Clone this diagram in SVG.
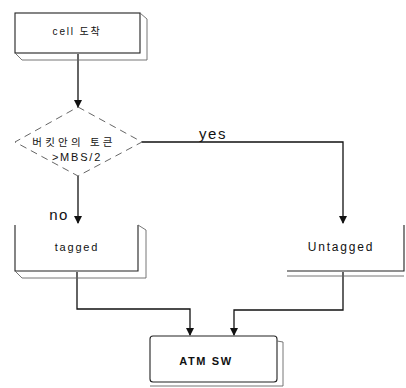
<svg xmlns="http://www.w3.org/2000/svg" width="406" height="388" viewBox="0 0 406 388">
  <style>
    .edge { fill: none; stroke: #111; stroke-width: 1.3; }
    .box { fill: none; stroke: #222; stroke-width: 1.1; }
    .faint { fill: none; stroke: #666; stroke-width: 0.9; }
    .dia { fill: none; stroke: #555; stroke-width: 0.9; stroke-dasharray: 7 5; }
    text { font-family: "Liberation Sans", "Noto Sans CJK KR", sans-serif; fill: #111; text-anchor: middle; }
    .lbl { font-size: 10px; letter-spacing: 1.8px; }
    .big { font-size: 15px; letter-spacing: 1.5px; }
  </style>
  <defs>
    <marker id="arr" markerWidth="8" markerHeight="9" refX="7" refY="4" orient="auto" markerUnits="userSpaceOnUse">
      <path d="M0,0 L8,4 L0,8 Z" fill="#111"/>
    </marker>
  </defs>
  <rect width="406" height="388" fill="#fff"/>

  <g id="edges">
    <path class="edge" d="M78,54 L78,107" marker-end="url(#arr)"/>
    <path class="edge" d="M78,176 L78,223" marker-end="url(#arr)"/>
    <path class="edge" d="M142,142 L343,142 L343,223" marker-end="url(#arr)"/>
    <path class="edge" d="M77,272 L77,309 L190,309 L190,335" marker-end="url(#arr)"/>
    <path class="edge" d="M343,272 L343,310 L234,310 L234,335" marker-end="url(#arr)"/>
    <text class="big" x="213" y="139">yes</text>
    <text class="big" x="59" y="220">no</text>
  </g>

  <g id="cell">
    <rect class="box" x="15" y="13" width="125" height="40"/>
    <path class="faint" d="M140,13 L147,19 L147,60 L22,60 L15,53"/>
    <text class="lbl" x="77" y="35">cell 도착</text>
  </g>

  <g id="decision">
    <path class="dia" d="M78,107 L142,142 L78,176 L15,142 Z"/>
    <text class="lbl" x="74" y="146" style="font-size:10.5px;letter-spacing:3.2px">버킷안의 토큰</text>
    <text class="lbl" x="77" y="161" style="font-size:11px">&gt;MBS/2</text>
  </g>

  <g id="tagged">
    <path class="box" d="M15,225 L15,271 L138,271 L138,225"/>
    <path class="faint" d="M138,225 L146,230 L146,278 L22,278 L15,271"/>
    <text class="lbl" x="77" y="251" style="font-size:11px">tagged</text>
  </g>

  <g id="untagged">
    <path class="box" d="M287,271 L404,271 L404,225"/>
    <path class="faint" d="M287,276 L404,276"/>
    <text class="lbl" x="341" y="251" style="font-size:12px">Untagged</text>
  </g>

  <g id="atm">
    <rect class="box" x="150" y="336" width="127" height="46" rx="3"/>
    <path class="faint" d="M277,341 L283,342 L283,386 L150,386"/>
    <text x="206" y="365" style="font-size:11px;font-weight:bold;letter-spacing:1.6px">ATM SW</text>
  </g>
</svg>
